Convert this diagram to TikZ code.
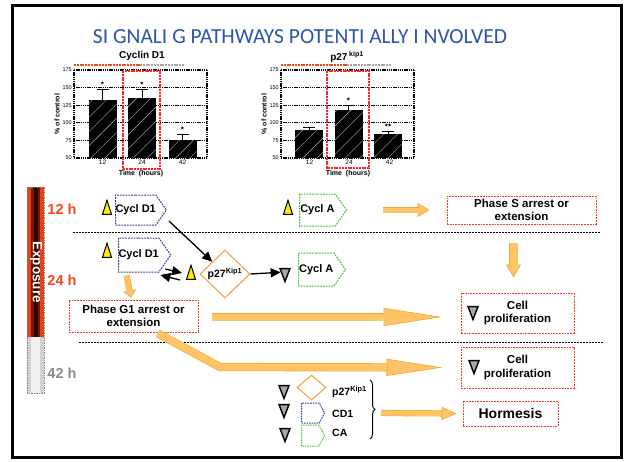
\documentclass[tikz,border=0pt]{standalone}
\usepackage{fontspec}
\setmainfont{Liberation Sans}
\newfontfamily\titlefont{Carlito}
\usetikzlibrary{shapes.geometric,shapes.symbols,arrows.meta,calc,decorations.pathreplacing,patterns.meta}

\definecolor{titleblue}{HTML}{2F55A8}
\definecolor{boxred}{HTML}{F03C1E}
\definecolor{cdblue}{HTML}{3A3A9C}
\definecolor{cagreen}{HTML}{3CC43C}
\definecolor{p27orange}{HTML}{F8A048}
\definecolor{arrowfill}{HTML}{FFC466}
\definecolor{arrowedge}{HTML}{F5A436}
\definecolor{markyellow}{HTML}{FFEA00}
\definecolor{markgray}{HTML}{A8A8A8}
\definecolor{hred}{HTML}{F04A1A}
\definecolor{hgray}{HTML}{8A8A8A}
\definecolor{exred}{HTML}{E2431A}
\definecolor{exdark}{HTML}{7A1604}
\definecolor{exblack}{HTML}{2C0600}
\definecolor{plotred}{HTML}{FF2424}

% chart value -> vertical position
\newcommand{\yv}[1]{(158-(#1-50)*0.704)}
% broad orange arrow: shaft, head length, head width, path
\newcommand{\fatarrow}[4]{%
  \draw[fathead={#2}{#3}] #4;
  \draw[fatbody={#1}{#2}] #4;
}

\begin{document}
\begin{tikzpicture}[x=1pt, y=-1pt,
  phasebox/.style={draw=boxred, line width=1pt, dash pattern=on 1.8pt off 1pt, align=center, inner sep=0pt, font=\fontsize{11.5}{13.5}\selectfont\bfseries},
  cycbox/.style={signal, signal to=east, signal pointer angle=110, line width=1pt, dash pattern=on 1.8pt off 1pt, inner sep=0pt, minimum width=47pt, minimum height=32pt, anchor=west, font=\fontsize{11}{13}\selectfont\bfseries},
  legbox/.style={signal, signal to=east, signal pointer angle=125, line width=1pt, dash pattern=on 1.5pt off 1pt, inner sep=0pt, minimum width=23pt, minimum height=20pt, anchor=west},
  p27shape/.style={diamond, draw=p27orange, line width=1.1pt, inner sep=0pt},
  upmark/.style={isosceles triangle, isosceles triangle stretches, shape border rotate=90, draw=black, fill=markyellow, line width=1pt, inner sep=0pt, minimum width=9pt, minimum height=14pt},
  downmark/.style={isosceles triangle, isosceles triangle stretches, shape border rotate=270, draw=black, fill=markgray, line width=1.4pt, inner sep=0pt, minimum width=10pt, minimum height=13pt},
  blackarrow/.style={line width=1.3pt, -{Triangle[length=10pt, width=9pt]}},
  fathead/.style n args={2}{draw=arrowfill, line width=0.1pt, -{Triangle[length=#1pt, width=#2pt, fill=arrowfill, color=arrowedge, line width=0.6pt]}},
  fatbody/.style n args={2}{draw=arrowedge, line width=0.6pt, double=arrowfill, double distance=#1pt, shorten >=#2pt-1pt, line join=round},
  gridline/.style={line width=1.3pt, dash pattern=on 1.3pt off 0.9pt},
  errbar/.style={line width=1pt},
  ticklabel/.style={font=\fontsize{5.5}{6}\selectfont, inner sep=1pt},
  signif/.style={font=\fontsize{8}{8}\selectfont\bfseries, inner sep=0pt, anchor=south},
  axislabel/.style={font=\fontsize{7}{8}\selectfont\bfseries, inner sep=0pt},
  separator/.style={line width=1pt, dash pattern=on 2pt off 1pt},
  hours/.style={font=\fontsize{14.5}{16}\selectfont\bfseries, inner sep=0pt},
  leglabel/.style={font=\fontsize{10.5}{12}\selectfont\bfseries, inner sep=0pt, anchor=west}
]
\useasboundingbox (0,0) rectangle (626,461);
\draw[line width=3pt] (12.5,5.5) rectangle (621.5,457.5);

\node[font=\titlefont\fontsize{21.5}{24}\selectfont, text=titleblue] (title) at (300,37) {SI GNALI G PATHWAYS POTENTI ALLY I NVOLVED};

% the two bar charts
\node[font=\fontsize{10}{12}\selectfont\bfseries] (cyctitle) at (142,56) {Cyclin D1};
\node[font=\fontsize{10}{12}\selectfont\bfseries] (p27title) at (347,57) {p27\,\textsuperscript{kip1}};
\foreach \ox/\name in {0/cyc, 207/kip} {
  \begin{scope}[xshift=\ox pt]
    \foreach \v in {50,75,...,175} {
      \draw[gridline] (74,{\yv{\v}}) -- (207,{\yv{\v}});
      \node[ticklabel, anchor=east] (\name-\v) at (73,{\yv{\v}}) {\v};
    }
    \draw[gridline] (74,70) -- (74,158);
    \draw[gridline] (207,70) -- (207,158);
    \foreach \bx/\lab in {102.5/12, 142/24, 182.5/42}
      \node[ticklabel, anchor=north, font=\fontsize{6.5}{7}\selectfont] (\name-t\lab) at (\bx,159) {\lab};
    \node[axislabel] (\name-time) at (141,174) {Time\ \ (hours)};
    \node[axislabel, rotate=90] (\name-pct) at (57,114) {\% of control};
    \draw[hred, line width=1.6pt, dash pattern=on 2pt off 0.8pt] (74,65) -- (140,65);
    \draw[gray!70, line width=1.6pt, dash pattern=on 2pt off 0.8pt] (140,65) -- (184,65);
  \end{scope}
}
\foreach \bx/\val/\err/\mark [count=\i] in {102.5/132/148/*, 142/135/148/*, 182.5/76/84/*, 309/90/94/{}, 348.5/118/125/*, 388/84/88/**} {
  \fill[black] (\bx-14,158) rectangle (\bx+14,{\yv{\val}});
  \fill[pattern={Lines[angle=45, distance=10pt, line width=0.4pt]}, pattern color=gray!60] (\bx-14,158) rectangle (\bx+14,{\yv{\val}});
  \draw[errbar] (\bx,{\yv{\val}}) -- (\bx,{\yv{\err}}) (\bx-6,{\yv{\err}}) -- (\bx+6,{\yv{\err}});
  \node[signif] (sig\i) at (\bx,{\yv{\err}-1.5}) {\mark};
}
\draw[plotred, line width=1.3pt, dash pattern=on 2pt off 0.8pt] (123,71) rectangle (160,169);
\draw[plotred, line width=1.3pt, dash pattern=on 2pt off 0.8pt] (327,71) rectangle (369,168);

% exposure bar
\fill[exred] (27,187) rectangle (44,337);
\fill[exdark] (31,187) rectangle (40,337);
\fill[exblack] (33.5,187) rectangle (37.5,337);
\fill[gray!35] (27,337) rectangle (44,393);
\fill[gray!12] (31,337) rectangle (40,393);
\draw[gray, line width=0.8pt, dash pattern=on 1.5pt off 1pt] (27,187) rectangle (44,393);
\node[rotate=-90, text=white, font=\fontsize{13.5}{14}\selectfont\bfseries] (expo) at (36,272) {Exposure};
\node[hours, text=hred] (h12) at (62,209) {12 h};
\node[hours, text=hred] (h24) at (62,280) {24 h};
\node[hours, text=hgray] (h42) at (62,373) {42 h};

\draw[separator] (73,232) -- (600,232);
\draw[separator] (79,342) -- (604,342);

% 12 h
\node[upmark] (y1) at (107,211) {};
\node[cycbox, draw=cdblue, minimum height=30pt] (cd1) at (115,210) {Cycl D1};
\node[upmark] (y2) at (288,211) {};
\node[cycbox, draw=cagreen] (ca1) at (299,210) {Cycl A};
\node[phasebox, minimum width=149pt, minimum height=28pt] (ps) at (521.5,210) {Phase S arrest or\\extension};

% 24 h
\node[upmark] (y3) at (107,254) {};
\node[cycbox, draw=cdblue, minimum height=34pt] (cd2) at (118,255) {Cycl D1};
\node[upmark] (y4) at (191,276) {};
\node[p27shape, minimum width=50pt, minimum height=48pt, font=\fontsize{10.5}{12}\selectfont\bfseries] (p27) at (225,274) {p27\textsuperscript{Kip1}};
\node[downmark] (d1) at (285,272) {};
\node[cycbox, draw=cagreen, minimum height=33pt] (ca2) at (298,269.5) {Cycl A};
\node[phasebox, minimum width=129pt, minimum height=32pt] (g1) at (133.5,316) {Phase G1 arrest or\\extension};
\node[phasebox, minimum width=113pt, minimum height=40pt] (cp1) at (517.5,313) {Cell\\proliferation};
\node[downmark] (d2) at (473,310) {};

% 42 h
\node[phasebox, minimum width=113pt, minimum height=41pt] (cp2) at (517.5,367.5) {Cell\\proliferation};
\node[downmark] (d3) at (474,364) {};
\node[phasebox, minimum width=95pt, minimum height=25pt, font=\fontsize{14}{16}\selectfont\bfseries] (hm) at (510.5,413.5) {Hormesis};

\node[downmark] (d4) at (284,389) {};
\node[downmark] (d5) at (284,408) {};
\node[downmark] (d6) at (285,432) {};
\node[p27shape, minimum width=29pt, minimum height=25pt] (p27l) at (311.5,387.5) {};
\node[legbox, draw=cdblue] (cdl) at (301,413) {};
\node[legbox, draw=cagreen, minimum height=21pt] (cal) at (301,435.5) {};
\node[leglabel] (p27t) at (332,392) {p27\textsuperscript{Kip1}};
\node[leglabel] (cdt) at (332,414) {CD1};
\node[leglabel] (cat) at (332,433) {CA};
\draw[line width=1pt, decorate, decoration={brace, amplitude=5pt}] (370,380) -- (370,439);
\coordinate (bt) at (381,413);
\coordinate (bend) at (220,367);

% black arrows
\draw[blackarrow] ($(cd1.east)+(2,11)$) -- (p27.north west);
\draw[blackarrow] ($(cd2.east)+(-6,14)$) -- ($(y4.center)+(-9,-3)$);
\draw[blackarrow] ($(y4.center)+(-11,4)$) -- ($(cd2.east)+(-11,20)$);
\draw[blackarrow] (p27.east) -- (d1);

% orange arrows
\fatarrow{5}{12}{14}{($(ca1.east)+(36,0)$) -- ($(ps.west)+(-17,0)$)}
\fatarrow{8}{13}{15}{($(ps.south)+(-8,18)$) -- ($(cp1.north)+(-4,-15)$)}
\fatarrow{5}{7}{13}{($(cd2.south)+(-12,3)$) -- ($(g1.north)+(-2.5,-2)$)}
\fatarrow{7}{58}{18}{($(g1.east)+(13,1)$) -- ($(cp1.west)+(-19,4)$)}
\fatarrow{7}{56}{17}{($(g1.south)+(24.5,1)$) -- (bend) -- ($(cp2.west)+(-18,0)$)}
\fatarrow{5}{15}{13}{(bt) -- ($(hm.west)+(-6,0)$)}
\end{tikzpicture}
\end{document}
